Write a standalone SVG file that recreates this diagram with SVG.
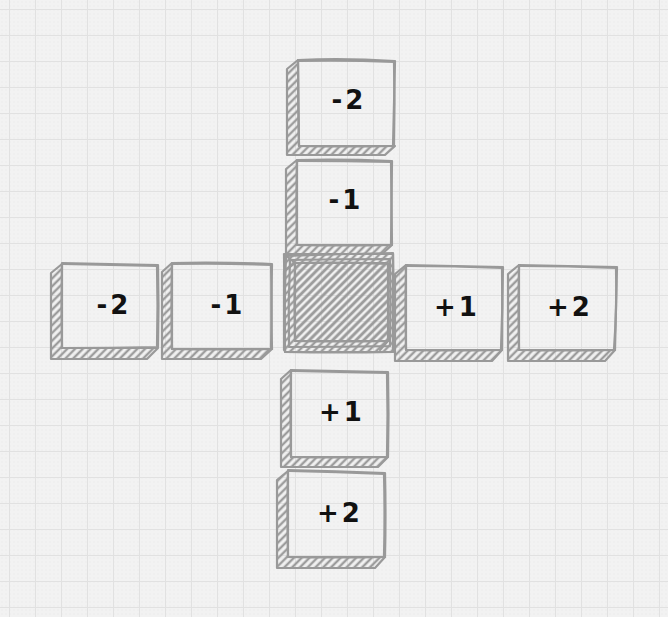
<svg xmlns="http://www.w3.org/2000/svg" width="668" height="617" viewBox="0 0 668 617">
<defs>
<pattern id="dots" patternUnits="userSpaceOnUse" width="4" height="4">
<rect x="1.5" y="1.5" width="1" height="1" fill="#e8e8e8"/>
</pattern>
<pattern id="grid" patternUnits="userSpaceOnUse" x="9" y="9" width="26" height="26">
<path d="M0 0H26M0 0V26" stroke="#e1e1e1" stroke-width="2" fill="none"/>
</pattern>
<pattern id="hatch" patternUnits="userSpaceOnUse" width="5.5" height="5.5" patternTransform="rotate(45)">
<line x1="2.75" y1="0" x2="2.75" y2="5.5" stroke="#9c9c9c" stroke-width="2.4"/>
</pattern>
</defs>
<style>
.out{fill:none;stroke:#999;stroke-width:2.2;stroke-linejoin:round;stroke-linecap:round}
.ext{fill:url(#hatch);stroke:#999;stroke-width:2.2;stroke-linejoin:round}
.lbl{font-family:"DejaVu Sans",sans-serif;font-weight:bold;font-size:26px;fill:#111;text-anchor:middle;letter-spacing:3px}
</style>
<rect width="668" height="617" fill="#f2f2f2"/>
<rect width="668" height="617" fill="url(#dots)"/>
<rect width="668" height="617" fill="url(#grid)"/>

<g id="connectors"></g>

<g id="top-2">
<path class="ext" d="M298 60 L287 69 L287 155 L385 155 L395 146 L299 146 Z"/>
<path class="out" d="M298 60 Q345 58 395 61 Q394 104 393 146 Q346 147 299 146 Q298 104 298 60 Z"/>
<path class="out" d="M299 61 Q347 60 394 62 M394 63 Q395 104 394 145"/>
<text class="lbl" x="349" y="109">-2</text>
</g>

<g id="top-1">
<path class="ext" d="M297 160 L286 169 L286 254 L382 254 L392 245 L297 245 Z"/>
<path class="out" d="M297 160 Q344 159 392 161 Q391 203 392 245 Q344 246 297 245 Q296 203 297 160 Z"/>
<path class="out" d="M298 161 Q345 161 391 162 M391 162 Q392 203 391 244"/>
<text class="lbl" x="346" y="209">-1</text>
</g>

<g id="left-2">
<path class="ext" d="M62 264 L51 273 L51 359 L147 359 L158 348 L62 348 Z"/>
<path class="out" d="M62 263 Q110 264 158 265 Q159 306 158 347 Q110 348 62 348 Q61 306 62 263 Z"/>
<path class="out" d="M63 264 Q110 265 157 266 M157 266 Q158 306 157 346"/>
<text class="lbl" x="114" y="314">-2</text>
</g>

<g id="left-1">
<path class="ext" d="M172 263 L162 272 L162 359 L261 359 L272 349 L172 349 Z"/>
<path class="out" d="M172 263 Q222 262 272 264 Q271 306 272 349 Q222 350 172 349 Q171 306 172 263 Z"/>
<path class="out" d="M173 264 Q222 263 271 265 M271 265 Q272 306 271 348"/>
<text class="lbl" x="228" y="314">-1</text>
</g>

<g id="center">
<path class="ext" d="M295 263 L284 254 L393 254 L393 352 L285 352 L284 254 Z"/>
<path class="ext" d="M295 263 L388 263 L388 341 L295 341 Z"/>
<path class="out" d="M286 256 Q340 254 393 253 Q394 303 393 352 Q338 353 285 352 Q284 304 286 256 Z"/>
<path class="out" d="M290 260 Q340 259 390 259 Q391 302 390 346 Q339 347 289 347 Q288 303 290 260 Z"/>
<path class="out" d="M295 263 Q341 262 388 264 Q389 302 388 341 Q341 342 295 341 Q294 302 295 263 Z"/>
<path class="out" d="M295 263 L284 271 L284 350 M388 341 L380 350"/>
</g>

<g id="right+1">
<path class="ext" d="M406 265 L395 274 L395 361 L492 361 L502 350 L406 350 Z"/>
<path class="out" d="M406 265 Q455 266 503 267 Q502 308 502 350 Q454 351 406 350 Q405 308 406 265 Z"/>
<path class="out" d="M407 266 Q455 266 502 268 M502 268 Q503 308 501 349"/>
<text class="lbl" x="457" y="316">+1</text>
</g>

<g id="right+2">
<path class="ext" d="M519 265 L508 274 L508 361 L605 361 L615 350 L519 350 Z"/>
<path class="out" d="M519 265 Q568 266 617 267 Q616 308 615 350 Q567 351 519 350 Q518 308 519 265 Z"/>
<path class="out" d="M520 266 Q568 266 616 268 M616 268 Q617 308 614 349"/>
<text class="lbl" x="570" y="316">+2</text>
</g>

<g id="bottom+1">
<path class="ext" d="M291 370 L281 379 L281 467 L378 467 L388 457 L291 457 Z"/>
<path class="out" d="M291 370 Q340 371 388 372 Q389 415 388 457 Q340 458 291 457 Q290 414 291 370 Z"/>
<path class="out" d="M292 371 Q340 372 387 373 M387 373 Q388 415 387 456"/>
<text class="lbl" x="342" y="421">+1</text>
</g>

<g id="bottom+2">
<path class="ext" d="M288 471 L277 480 L277 568 L375 568 L385 557 L288 557 Z"/>
<path class="out" d="M288 470 Q336 471 385 473 Q386 515 385 557 Q336 558 288 557 Q287 514 288 470 Z"/>
<path class="out" d="M289 471 Q337 472 384 474 M384 474 Q385 515 384 556"/>
<text class="lbl" x="340" y="522">+2</text>
</g>
</svg>
